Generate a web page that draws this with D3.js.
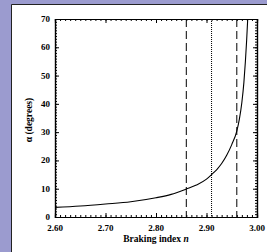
<!DOCTYPE html>
<html>
<head>
<meta charset="utf-8">
<script src="https://cdn.jsdelivr.net/npm/d3@7"></script>
<style>
  body { margin: 0; background: #9b9bcf; }
  #viz-container { width: 267px; height: 252px; }
</style>
</head>
<body>
<div id="viz-container"></div>
<script>
// curve: braking index n vs alpha (degrees)
let brakingIndex = [2.60, 2.65, 2.70, 2.75, 2.80, 2.83, 2.86, 2.88, 2.90, 2.91, 2.92, 2.93, 2.94, 2.95, 2.96, 2.965, 2.970, 2.974, 2.977, 2.9795, 2.9816];
let alphaDeg     = [3.4,  3.9,  4.6,  5.4,  6.8,  8.0,  9.9,  11.3, 13.4, 15.0, 16.7, 18.9, 21.8, 25.6, 30.4, 34.5, 40.5, 47.5, 55.0, 62.5, 70.0];

// vertical marker lines
let dashedLines = [2.86, 2.96];
let dottedLines = [2.91];

// ticks
let xTicks = [2.60, 2.70, 2.80, 2.90, 3.00];
let yTicks = [0, 10, 20, 30, 40, 50, 60, 70];

let viz = d3.select("#viz-container")
              .append("svg")
                .attr("width", 267)
                .attr("height", 252)
;

// white panel with dark edge on top & left
viz.append("rect").attr("x", 12).attr("y", 5).attr("width", 255).attr("height", 247).attr("fill", "white");
viz.append("line").attr("x1", 11.5).attr("x2", 11.5).attr("y1", 4.5).attr("y2", 252).attr("stroke", "#222");
viz.append("line").attr("x1", 11.5).attr("x2", 267).attr("y1", 4.5).attr("y2", 4.5).attr("stroke", "#222");

let x = d3.scaleLinear().domain([2.60, 3.00]).range([55, 257]);
let y = d3.scaleLinear().domain([0, 70]).range([217, 19]);

let xMinor = d3.range(0, 41).map(i => 2.60 + i * 0.01);
let yMinor = d3.range(0, 71);

function fmt2(d){ return d.toFixed(2); }

// bottom axis (labels) and top axis (none), ticks point inward
viz.append("g").attr("transform", "translate(0,217)")
   .call(d3.axisTop(x).tickValues(xMinor).tickSize(2).tickFormat(""));
viz.append("g").attr("transform", "translate(0,217)")
   .call(d3.axisTop(x).tickValues(xTicks).tickSize(4).tickFormat(""));
viz.append("g").attr("transform", "translate(0,19)")
   .call(d3.axisBottom(x).tickValues(xMinor).tickSize(2).tickFormat(""));
viz.append("g").attr("transform", "translate(0,19)")
   .call(d3.axisBottom(x).tickValues(xTicks).tickSize(4).tickFormat(""));

viz.append("g").attr("transform", "translate(55,0)")
   .call(d3.axisRight(y).tickValues(yMinor).tickSize(2).tickFormat(""));
viz.append("g").attr("transform", "translate(55,0)")
   .call(d3.axisRight(y).tickValues(yTicks).tickSize(4).tickFormat(""));
viz.append("g").attr("transform", "translate(257,0)")
   .call(d3.axisLeft(y).tickValues(yMinor).tickSize(2).tickFormat(""));
viz.append("g").attr("transform", "translate(257,0)")
   .call(d3.axisLeft(y).tickValues(yTicks).tickSize(4).tickFormat(""));

viz.selectAll(".domain").attr("stroke", "black").attr("stroke-width", 1.2);
viz.selectAll(".tick line").attr("stroke", "black");

// tick labels
viz.selectAll(".xlab").data(xTicks).enter().append("text")
   .attr("x", d => x(d)).attr("y", 231)
   .attr("text-anchor", "middle")
   .attr("font-family", "Liberation Serif").attr("font-weight", "bold").attr("font-size", 9)
   .text(fmt2);
viz.selectAll(".ylab").data(yTicks).enter().append("text")
   .attr("x", 50).attr("y", d => y(d) + 3)
   .attr("text-anchor", "end")
   .attr("font-family", "Liberation Serif").attr("font-weight", "bold").attr("font-size", 9)
   .text(d => d);

// axis titles
let xt = viz.append("text").attr("x", 156).attr("y", 242).attr("text-anchor", "middle")
   .attr("font-family", "Liberation Serif").attr("font-weight", "bold").attr("font-size", 9.5);
xt.append("tspan").text("Braking index ");
xt.append("tspan").attr("font-style", "italic").text("n");

viz.append("text").attr("transform", "translate(32,120) rotate(-90)").attr("text-anchor", "middle")
   .attr("font-family", "Liberation Serif").attr("font-weight", "bold").attr("font-size", 9.5)
   .text("α (degrees)");

// marker lines
viz.selectAll(".dash").data(dashedLines).enter().append("line")
   .attr("x1", d => x(d)).attr("x2", d => x(d)).attr("y1", y(70)).attr("y2", y(0))
   .attr("stroke", "black").attr("stroke-dasharray", "8,4");
viz.selectAll(".dot").data(dottedLines).enter().append("line")
   .attr("x1", d => x(d)).attr("x2", d => x(d)).attr("y1", y(70)).attr("y2", y(0))
   .attr("stroke", "black").attr("stroke-dasharray", "1,1");

// curve
let pts = brakingIndex.map((n, i) => [n, alphaDeg[i]]);
viz.append("path").datum(pts)
   .attr("d", d3.line().x(d => x(d[0])).y(d => y(d[1])).curve(d3.curveMonotoneX))
   .attr("fill", "none").attr("stroke", "black").attr("stroke-width", 1.1);
</script>
</body>
</html>
